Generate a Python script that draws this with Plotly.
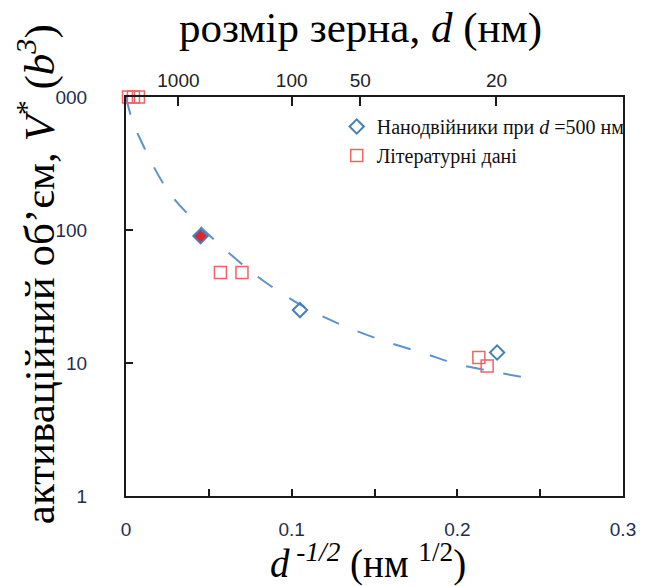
import plotly.graph_objects as go

# Nanotwinned samples (d = 500 nm); the highlighted point is drawn filled
twin_x = [0.105, 0.224]
twin_y = [25, 12]
highlight_x = [0.045]
highlight_y = [90]

# Literature data
lit_x = [0.0015, 0.0045, 0.0075, 0.057, 0.070, 0.213, 0.218]
lit_y = [1000, 1000, 1000, 48, 48, 11, 9.5]

# Trend curve
fit_x = [0.0, 0.003, 0.008, 0.025, 0.042, 0.060, 0.078, 0.100, 0.120, 0.150, 0.180, 0.200, 0.220, 0.240]
fit_y = [1000, 720, 500, 200, 115, 71, 46, 30, 22, 15.5, 11.8, 9.8, 8.7, 7.8]

# Bottom axis ticks (d^-1/2) and top axis grain sizes (nm)
bottom_ticks = [0, 0.05, 0.10, 0.15, 0.20, 0.25, 0.30]
bottom_text = ["0", "", "0.1", "", "0.2", "", "0.3"]
grain_sizes = [1000, 100, 50, 20]
y_ticks = [1, 10, 100, 1000]
y_text = ["1", "10", "100", "000"]

BLUE = "#4a7ebb"
RED_SQ = "#ef6464"
SERIF = "Times New Roman"
SANS = "Liberation Sans"

fig = go.Figure()

fig.add_trace(go.Scatter(
    x=fit_x, y=fit_y, mode="lines", showlegend=False, hoverinfo="skip",
    line=dict(color="#5b93cc", width=2, dash="18px,20px", shape="spline", smoothing=1.0),
))

fig.add_trace(go.Scatter(
    x=twin_x, y=twin_y, mode="markers",
    name="Нанодвійники при <i>d</i> =500 нм",
    marker=dict(symbol="diamond-open", size=11, color=BLUE, line=dict(width=2, color=BLUE)),
))

fig.add_trace(go.Scatter(
    x=highlight_x, y=highlight_y, mode="markers", showlegend=False,
    marker=dict(symbol="diamond", size=11, color="#e3262d", line=dict(width=2, color=BLUE)),
))

fig.add_trace(go.Scatter(
    x=lit_x, y=lit_y, mode="markers", cliponaxis=False,
    name="Літературні дані",
    marker=dict(symbol="square-open", size=12, color=RED_SQ, line=dict(width=1.5, color=RED_SQ)),
))

# invisible carrier for the top (grain size) axis
fig.add_trace(go.Scatter(
    x=[d ** -0.5 for d in grain_sizes], y=[10] * len(grain_sizes), xaxis="x2",
    mode="markers", marker=dict(opacity=0), showlegend=False, hoverinfo="skip",
))

axis_common = dict(showline=True, linewidth=2, linecolor="#1a1a1a", ticks="inside",
                   tickwidth=1.5, tickcolor="#1a1a1a", showgrid=False, zeroline=False)

fig.update_layout(
    width=648, height=586,
    margin=dict(l=126, r=16, t=97, b=90),
    paper_bgcolor="white", plot_bgcolor="white",
    xaxis=dict(range=[0, 0.3], tickvals=bottom_ticks, ticktext=bottom_text, ticklen=7,
               mirror=True, ticklabelstandoff=15,
               tickfont=dict(family=SANS, size=19, color="#1f2d4d"), **axis_common),
    xaxis2=dict(range=[0, 0.3], overlaying="x", side="top", anchor="y",
                tickvals=[d ** -0.5 for d in grain_sizes], ticktext=[str(d) for d in grain_sizes],
                ticks="inside", ticklen=9, tickwidth=1.5, tickcolor="#1a1a1a",
                showline=False, showgrid=False, zeroline=False, ticklabelstandoff=5,
                tickfont=dict(family=SANS, size=19, color="#222222")),
    yaxis=dict(type="log", range=[0, 3], tickvals=y_ticks, ticktext=y_text, ticklen=7,
               mirror=True, ticklabelstandoff=33,
               tickfont=dict(family=SANS, size=19, color="#1f2d4d"), **axis_common),
    legend=dict(x=0.424, y=0.975, xanchor="left", yanchor="top", bgcolor="rgba(0,0,0,0)",
                font=dict(family=SERIF, size=20, color="#111111"), itemwidth=30),
    showlegend=True,
)

fig.add_annotation(
    text="розмір зерна, <i>d</i> (нм)", xref="paper", yref="paper", x=0.472, y=1.172,
    showarrow=False, xanchor="center", yanchor="middle",
    font=dict(family=SERIF, size=43, color="black"),
)
fig.add_annotation(
    text="<i>d</i><sup><i> -1/2</i></sup> (нм <sup>1/2</sup>)", xref="paper", yref="paper",
    x=0.4876, y=-0.164, showarrow=False, xanchor="center", yanchor="middle",
    font=dict(family=SERIF, size=39, color="black"),
)
fig.add_annotation(
    text="активаційний об’єм, <i>V</i><sup>*</sup> (<i>b</i><sup><i>3</i></sup>)",
    xref="paper", yref="paper", x=-0.181, y=0.556, textangle=-90,
    showarrow=False, xanchor="center", yanchor="middle",
    font=dict(family=SERIF, size=43, color="black"),
)

fig.write_html("out.html")
